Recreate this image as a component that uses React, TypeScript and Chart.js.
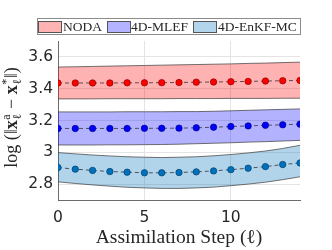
import React, { useEffect, useRef } from "react";
import { Chart, registerables } from "chart.js";

Chart.register(...registerables);

const steps = [0, 1, 2, 3, 4, 5, 6, 7, 8, 9, 10, 11, 12, 13, 14];
const seriesLabels = ["NODA", "4D-MLEF", "4D-EnKF-MC"];

const nodaMean = [3.436, 3.436, 3.436, 3.436, 3.437, 3.437, 3.438, 3.439, 3.441, 3.442, 3.444, 3.446, 3.448, 3.45, 3.452];
const nodaUpper = [3.536, 3.538, 3.54, 3.542, 3.544, 3.546, 3.548, 3.55, 3.552, 3.554, 3.556, 3.559, 3.561, 3.564, 3.567];
const nodaLower = [3.336, 3.336, 3.336, 3.337, 3.337, 3.337, 3.337, 3.338, 3.338, 3.338, 3.339, 3.339, 3.339, 3.34, 3.34];

const mlefMean = [3.15, 3.15, 3.15, 3.15, 3.15, 3.151, 3.151, 3.152, 3.154, 3.158, 3.162, 3.166, 3.17, 3.173, 3.177];
const mlefUpper = [3.254, 3.254, 3.254, 3.254, 3.255, 3.255, 3.255, 3.256, 3.256, 3.258, 3.261, 3.264, 3.267, 3.27, 3.273];
const mlefLower = [3.046, 3.046, 3.046, 3.047, 3.047, 3.048, 3.049, 3.051, 3.054, 3.057, 3.06, 3.064, 3.067, 3.071, 3.075];

const enkfMean = [2.904, 2.894, 2.886, 2.879, 2.875, 2.871, 2.871, 2.873, 2.877, 2.883, 2.891, 2.9, 2.91, 2.923, 2.933];
const enkfUpper = [2.998, 2.99, 2.983, 2.977, 2.972, 2.969, 2.967, 2.969, 2.972, 2.978, 2.986, 2.996, 3.008, 3.024, 3.044];
const enkfLower = [2.814, 2.804, 2.795, 2.787, 2.78, 2.776, 2.773, 2.773, 2.776, 2.781, 2.79, 2.8, 2.812, 2.828, 2.846];

const xTicks = [0, 5, 10];
const yTicks = [2.8, 3, 3.2, 3.4, 3.6];

const bandFills = ["rgba(255,0,0,0.3)", "rgba(0,0,255,0.3)", "rgba(0,114,189,0.3)"];
const legendFills = ["#ffb3b3", "#b3b3ff", "#b2d5eb"];
const pointFills = ["#ff0000", "#0000ff", "#0072bd"];
const pointEdges = ["#8a0000", "#00008a", "#003f69"];

const toXY = (arr: number[]) => steps.map((s, i) => ({ x: s, y: arr[i] }));

const overlay = {
  id: "overlay",
  afterDraw(chart: any) {
    const ctx = chart.ctx as CanvasRenderingContext2D;
    const area = chart.chartArea;
    ctx.save();
    // Legend
    ctx.fillStyle = "#ffffff";
    ctx.fillRect(37.5, 18.5, 263, 16);
    ctx.strokeStyle = "#8c8c8c";
    ctx.lineWidth = 1;
    ctx.strokeRect(37.5, 18.5, 263, 16);
    const patchX = [38.5, 107.5, 193.5];
    const textX = [63, 131, 218];
    ctx.font = "13.5px 'Liberation Serif', serif";
    ctx.textBaseline = "alphabetic";
    ctx.textAlign = "left";
    for (let i = 0; i < 3; i++) {
      ctx.fillStyle = legendFills[i];
      ctx.fillRect(patchX[i], 21.5, 23, 11);
      ctx.strokeStyle = "#555555";
      ctx.strokeRect(patchX[i], 21.5, 23, 11);
      ctx.fillStyle = "#262626";
      ctx.fillText(seriesLabels[i], textX[i], 31);
    }
    // X title
    ctx.font = "19.5px 'Liberation Serif', serif";
    ctx.fillStyle = "#262626";
    ctx.textAlign = "center";
    ctx.fillText("Assimilation Step (\u2113)", (area.left + area.right) / 2, 243);

    // Y title (composite)
    const base = 18;
    const small = 12;
    const pieces: any[] = [
      { t: "log", f: `${base}px 'Liberation Serif', serif` },
      { t: " (\u2016", f: `${base}px 'Liberation Serif', serif` },
      { t: "x", f: `bold ${base}px 'Liberation Serif', serif` },
      { sub: "\u2113", sup: "a" },
      { t: " \u2212 ", f: `${base}px 'Liberation Serif', serif` },
      { t: "x", f: `bold ${base}px 'Liberation Serif', serif` },
      { sub: "\u2113", sup: "*" },
      { t: "\u2016)", f: `${base}px 'Liberation Serif', serif` },
    ];
    const smallFont = `${small}px 'Liberation Serif', serif`;
    const widths = pieces.map((p) => {
      if (p.t !== undefined) {
        ctx.font = p.f;
        return ctx.measureText(p.t).width;
      }
      ctx.font = smallFont;
      return Math.max(ctx.measureText(p.sub).width, ctx.measureText(p.sup).width) + 1;
    });
    const total = widths.reduce((a, b) => a + b, 0);
    ctx.translate(17, 117.5);
    ctx.rotate(-Math.PI / 2);
    ctx.textAlign = "left";
    let x = -total / 2;
    pieces.forEach((p, i) => {
      if (p.t !== undefined) {
        ctx.font = p.f;
        ctx.fillText(p.t, x, 0);
      } else {
        ctx.font = smallFont;
        ctx.fillText(p.sub, x + 0.5, 4);
        ctx.fillText(p.sup, x + 0.5, -7);
      }
      x += widths[i];
    });
    ctx.restore();
  },
};

export default function App() {
  const ref = useRef<HTMLCanvasElement | null>(null);
  useEffect(() => {
    if (!ref.current) return;
    const datasets: any[] = [];
    const groups = [
      [nodaUpper, nodaLower, nodaMean],
      [mlefUpper, mlefLower, mlefMean],
      [enkfUpper, enkfLower, enkfMean],
    ];
    groups.forEach((g, i) => {
      datasets.push({
        label: seriesLabels[i] + " upper",
        data: toXY(g[0]),
        borderColor: "rgba(70,70,70,0.75)",
        borderWidth: 1,
        pointRadius: 0,
        fill: false,
        order: 2,
      });
      datasets.push({
        label: seriesLabels[i] + " lower",
        data: toXY(g[1]),
        borderColor: "rgba(70,70,70,0.75)",
        borderWidth: 1,
        pointRadius: 0,
        backgroundColor: bandFills[i],
        fill: "-1",
        order: 2,
      });
      datasets.push({
        label: seriesLabels[i],
        data: toXY(g[2]),
        borderColor: "rgba(60,60,60,0.85)",
        borderWidth: 1,
        borderDash: [4, 3],
        pointRadius: 3.2,
        pointBackgroundColor: pointFills[i],
        pointBorderColor: pointEdges[i],
        pointBorderWidth: 0.7,
        fill: false,
        order: 0,
      });
    });
    const chart = new Chart(ref.current, {
      type: "line",
      data: { datasets },
      options: {
        animation: false,
        responsive: false,
        events: [],
        layout: { padding: { left: 0, right: 32, top: 41, bottom: 0 } },
        plugins: { legend: { display: false }, tooltip: { enabled: false } },
        scales: {
          x: {
            type: "linear",
            min: 0,
            max: 14,
            afterBuildTicks: (s: any) => {
              s.ticks = xTicks.map((v) => ({ value: v }));
            },
            afterFit: (s: any) => {
              s.height = 50;
            },
            grid: { color: "#e4e4e4", drawTicks: false, lineWidth: 1 },
            border: { display: true, color: "#6b6b6b", width: 1 },
            ticks: {
              padding: 9,
              color: "#262626",
              font: { family: "'DejaVu Sans', sans-serif", size: 15.5 },
              callback: (v: any) => String(v),
              maxRotation: 0,
            },
          },
          y: {
            type: "linear",
            min: 2.7,
            max: 3.7,
            afterBuildTicks: (s: any) => {
              s.ticks = yTicks.map((v) => ({ value: v }));
            },
            afterFit: (s: any) => {
              s.width = 58;
            },
            grid: { color: "#e4e4e4", drawTicks: false, lineWidth: 1 },
            border: { display: true, color: "#6b6b6b", width: 1 },
            ticks: {
              padding: 5,
              color: "#262626",
              font: { family: "'DejaVu Sans', sans-serif", size: 15.5 },
              callback: (v: any) => String(Math.round(Number(v) * 10) / 10),
            },
          },
        },
      },
      plugins: [overlay],
    });
    return () => chart.destroy();
  }, []);
  return (
    <div style={{ position: "fixed", left: 0, top: 0, width: 332, height: 250, background: "#fff" }}>
      <canvas ref={ref} width={332} height={250} style={{ display: "block" }} />
    </div>
  );
}
